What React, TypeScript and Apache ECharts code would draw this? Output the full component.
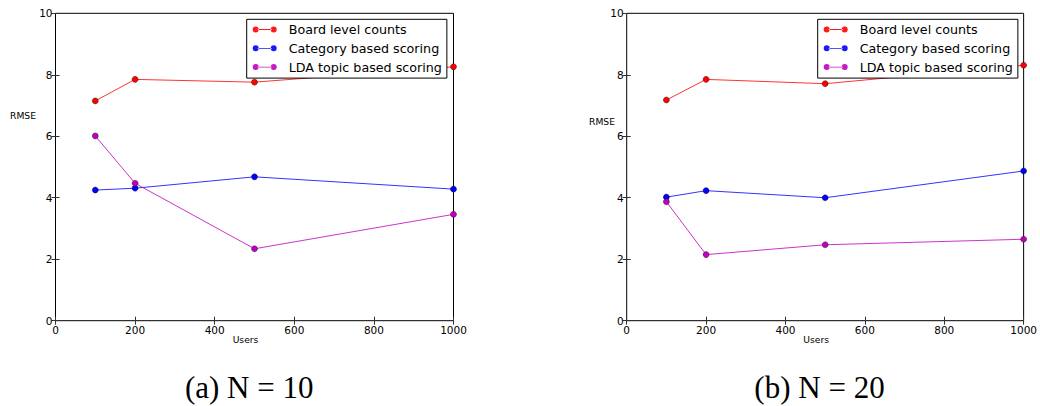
import React, { useEffect, useRef } from "react";
import * as echarts from "echarts";

// Number of users on the x axis
const USERS = [100, 200, 500, 1000];

// RMSE per method, N = 10
const boardN10 = [7.15, 7.85, 7.76, 8.26];
const categoryN10 = [4.25, 4.31, 4.68, 4.28];
const ldaN10 = [6.01, 4.47, 2.34, 3.46];

// RMSE per method, N = 20
const boardN20 = [7.18, 7.85, 7.71, 8.31];
const categoryN20 = [4.02, 4.23, 4.0, 4.87];
const ldaN20 = [3.87, 2.15, 2.47, 2.65];

const SERIES_NAMES = ["Board level counts", "Category based scoring", "LDA topic based scoring"];
const SERIES_COLORS = ["#ff0000", "#0000ff", "#bf00bf"];
const CAPTIONS = ["(a) N = 10", "(b) N = 20"];

const X_MIN = 0;
const X_MAX = 1000;
const X_STEP = 200;
const Y_MIN = 0;
const Y_MAX = 10;
const Y_STEP = 2;

const FONT = "DejaVu Sans";

// Two markers joined by a line, like the legend handles of the plots
const LEGEND_ICON =
  "path://M0,3a3,3 0 1,0 6,0a3,3 0 1,0 -6,0z M18,3a3,3 0 1,0 6,0a3,3 0 1,0 -6,0z M5,2.6h14v0.8h-14z";

const GRIDS = [
  { left: 55.5, top: 13.3, width: 398, height: 307.4 },
  { left: 626.7, top: 13.3, width: 397.6, height: 307.4 },
];

function buildOption() {
  const panels = [
    [boardN10, categoryN10, ldaN10],
    [boardN20, categoryN20, ldaN20],
  ];

  const grid = GRIDS.map((g) => ({
    ...g,
    show: true,
    borderColor: "#000",
    borderWidth: 1,
    backgroundColor: "transparent",
  }));

  const tickStyle = { show: true, inside: true, length: 4, lineStyle: { color: "#333" } };
  const labelStyle = { fontFamily: FONT, fontSize: 10.5, color: "#000" };

  const xAxis: any[] = [];
  const yAxis: any[] = [];
  GRIDS.forEach((_, gi) => {
    xAxis.push({
      type: "value",
      gridIndex: gi,
      min: X_MIN,
      max: X_MAX,
      interval: X_STEP,
      position: "bottom",
      name: "Users",
      nameLocation: "middle",
      nameGap: 14,
      nameMoveOverlap: false,
      nameTextStyle: {
        fontFamily: FONT,
        fontSize: 9.2,
        color: "#000",
        padding: [0, 18, 0, 0],
      },
      axisLine: { show: false },
      axisTick: tickStyle,
      axisLabel: { ...labelStyle, margin: 3.5, formatter: (v: number) => String(v) },
      splitLine: { show: false },
    });
    yAxis.push({
      type: "value",
      gridIndex: gi,
      min: Y_MIN,
      max: Y_MAX,
      interval: Y_STEP,
      position: "left",
      axisLine: { show: false },
      axisTick: tickStyle,
      axisLabel: { ...labelStyle, margin: 3, formatter: (v: number) => String(v) },
      splitLine: { show: false },
    });
  });
  // Mirror ticks along the top and right edges of each frame
  GRIDS.forEach((_, gi) => {
    xAxis.push({
      type: "value",
      gridIndex: gi,
      min: X_MIN,
      max: X_MAX,
      interval: X_STEP,
      position: "top",
      axisLine: { show: false },
      axisTick: tickStyle,
      axisLabel: { show: false },
      splitLine: { show: false },
    });
    yAxis.push({
      type: "value",
      gridIndex: gi,
      min: Y_MIN,
      max: Y_MAX,
      interval: Y_STEP,
      position: "right",
      axisLine: { show: false },
      axisTick: tickStyle,
      axisLabel: { show: false },
      splitLine: { show: false },
    });
  });

  const series: any[] = [];
  panels.forEach((values, gi) => {
    values.forEach((vals, si) => {
      series.push({
        type: "line",
        name: SERIES_NAMES[si],
        xAxisIndex: gi,
        yAxisIndex: gi,
        data: USERS.map((u, i) => [u, vals[i]]),
        symbol: "circle",
        symbolSize: 6,
        showSymbol: true,
        clip: false,
        z: 3 + si,
        itemStyle: { color: SERIES_COLORS[si], borderColor: "#000", borderWidth: 0.4 },
        lineStyle: { color: SERIES_COLORS[si], width: 1, opacity: 0.8 },
        emphasis: { disabled: true },
      });
    });
  });

  const legendLefts = [246.7, 817.7];
  const legend = legendLefts.map((left) => ({
    orient: "vertical",
    left,
    top: 19.3,
    data: SERIES_NAMES,
    icon: LEGEND_ICON,
    itemWidth: 24,
    itemHeight: 6,
    itemGap: 4.8,
    padding: [3.2, 5, 4, 6],
    borderColor: "#000",
    borderWidth: 1,
    backgroundColor: "#fff",
    selectedMode: false,
    itemStyle: { borderWidth: 0, opacity: 0.9 },
    textStyle: {
      fontFamily: FONT,
      fontSize: 12.7,
      lineHeight: 14,
      color: "#000",
      padding: [0, 0, 0, 7],
    },
  }));

  const rmsePositions = [
    { x: 36, y: 115 },
    { x: 615, y: 121.7 },
  ];
  const captionCenters = [249.2, 819.5];

  const graphic: any[] = [];
  rmsePositions.forEach((p) => {
    graphic.push({
      type: "text",
      x: p.x,
      y: p.y,
      silent: true,
      style: {
        text: "RMSE",
        fontFamily: FONT,
        fontSize: 9.2,
        fill: "#000",
        align: "right",
        verticalAlign: "middle",
      },
    });
  });
  captionCenters.forEach((cx, i) => {
    graphic.push({
      type: "text",
      x: cx,
      y: 387.5,
      silent: true,
      style: {
        text: CAPTIONS[i],
        fontFamily: "Liberation Serif",
        fontSize: 31,
        fill: "#000",
        align: "center",
        verticalAlign: "middle",
      },
    });
  });

  return {
    animation: false,
    backgroundColor: "#fff",
    grid,
    xAxis,
    yAxis,
    legend,
    series,
    graphic,
  };
}

export default function App() {
  const ref = useRef<HTMLDivElement>(null);

  useEffect(() => {
    if (!ref.current) return;
    const chart = echarts.init(ref.current, undefined, { renderer: "svg" });
    chart.setOption(buildOption());
    return () => chart.dispose();
  }, []);

  return (
    <div
      ref={ref}
      style={{ position: "fixed", left: 0, top: 0, width: 1040, height: 406, background: "#fff" }}
    />
  );
}
